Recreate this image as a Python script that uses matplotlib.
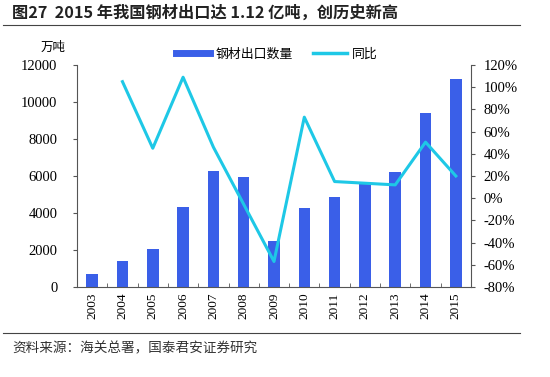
import matplotlib
matplotlib.use("Agg")
import matplotlib.pyplot as plt
from matplotlib.lines import Line2D
from matplotlib.ticker import FuncFormatter

plt.rcParams['font.family'] = ['Noto Sans CJK SC', 'DejaVu Sans']

years = ["2003", "2004", "2005", "2006", "2007", "2008", "2009",
         "2010", "2011", "2012", "2013", "2014", "2015"]
exports = [700, 1420, 2060, 4300, 6260, 5920, 2460,
           4260, 4890, 5570, 6230, 9380, 11240]
yoy_years = years[1:]
yoy = [105, 45, 109, 46, -5.5, -57, 73, 15, 13.5, 12, 50.5, 20]

BAR_C = "#3a5fe8"
LINE_C = "#1ec8e6"
SERIF = "Liberation Serif"

fig = plt.figure(figsize=(5.5, 3.77), dpi=100)
ax = fig.add_axes([77 / 550, 1 - 287 / 377, 394 / 550, 222 / 377])
ax2 = ax.twinx()

x = list(range(len(years)))
ax.bar(x, exports, width=0.38, color=BAR_C, zorder=2)
ax2.plot([years.index(y) for y in yoy_years], yoy, color=LINE_C, lw=2.2, zorder=3)

ax.set_xlim(-0.5, len(years) - 0.5)
ax.set_ylim(0, 12000)
ax.set_yticks(range(0, 12001, 2000))
ax2.set_ylim(-80, 120)
ax2.set_yticks(range(-80, 121, 20))
ax2.yaxis.set_major_formatter(FuncFormatter(lambda v, p: f"{v:.0f}%"))

ax.set_xticks(x)
ax.set_xticklabels(years, rotation=90, fontfamily=SERIF, fontsize=9.5)
ax.set_xticks([i + 0.5 for i in x[:-1]], minor=True)
ax.tick_params(axis="x", which="major", length=0, pad=4)
ax.tick_params(axis="x", which="minor", length=3, direction="in", color="#555555")
for lab in ax.get_yticklabels():
    lab.set_fontfamily(SERIF)
    lab.set_fontsize(10.5)
for lab in ax2.get_yticklabels():
    lab.set_fontfamily(SERIF)
    lab.set_fontsize(10.5)
ax.tick_params(axis="y", length=3, color="#555555", pad=11)
ax2.tick_params(axis="y", length=3, color="#555555", pad=6)

for a in (ax, ax2):
    a.spines["top"].set_visible(False)
    for s in ("left", "right", "bottom"):
        a.spines[s].set_color("#555555")
        a.spines[s].set_linewidth(0.8)
ax.spines["right"].set_visible(False)
ax2.spines["left"].set_visible(False)
ax2.spines["bottom"].set_visible(False)

fig.text(53 / 550, 1 - 47 / 377, "万吨", fontsize=9, ha="center", va="center")

handles = [Line2D([], [], color=BAR_C, lw=5), Line2D([], [], color=LINE_C, lw=2.5)]
fig.legend(handles, ["钢材出口数量", "同比"], loc="center", ncol=2,
           bbox_to_anchor=(277 / 550, 1 - 54 / 377), frameon=False,
           fontsize=9.3, handlelength=2.6, columnspacing=1.6, handletextpad=0.4)

fig.text(12 / 550, 1 - 13 / 377, "图27  2015 年我国钢材出口达 1.12 亿吨，创历史新高",
         fontsize=11.7, fontweight="bold", ha="left", va="center", color="#222222")
fig.add_artist(Line2D([3 / 550, 520 / 550], [1 - 25 / 377] * 2, color="#444444", lw=0.8))
fig.add_artist(Line2D([3 / 550, 520 / 550], [1 - 333 / 377] * 2, color="#444444", lw=0.8))
fig.text(12 / 550, 1 - 348 / 377, "资料来源：海关总署，国泰君安证券研究",
         fontsize=9.8, ha="left", va="center", color="#333333")

fig.savefig("out.png", dpi=100)
